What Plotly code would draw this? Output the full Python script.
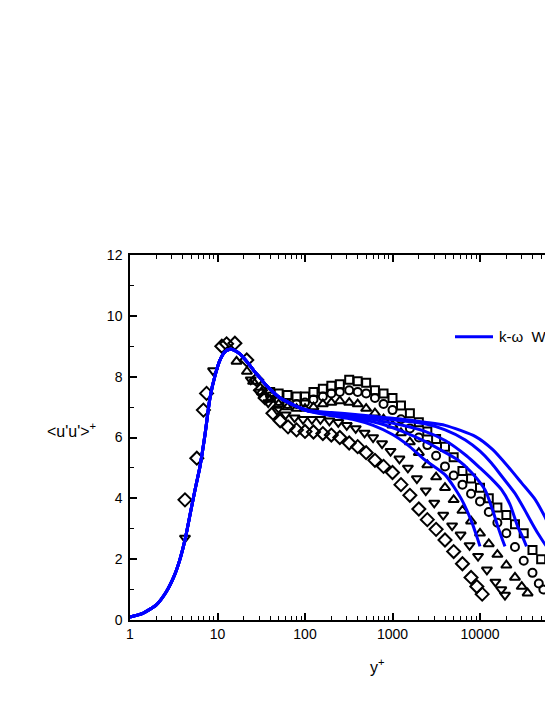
import plotly.graph_objects as go

# experimental profiles, <u'u'>+ against y+
diamond_x = [4.25, 5.8, 6.9, 7.5, 11.2, 12.7, 15.8, 21.6, 28, 31, 35, 43, 52, 64, 80, 100,
             125, 160, 200, 250, 320, 400, 500, 630, 790, 1000, 1250, 1580, 2000, 2500,
             3150, 3980, 5000, 6300, 7900, 9200, 10600]
diamond_y = [3.95, 5.32, 6.9, 7.45, 9.0, 9.08, 9.1, 8.55, 7.9, 7.55, 7.3, 6.8, 6.55, 6.35, 6.25,
             6.2, 6.18, 6.13, 6.08, 6.0, 5.82, 5.7, 5.5, 5.25, 5.05, 4.85, 4.45, 4.1, 3.65,
             3.3, 2.98, 2.63, 2.25, 1.85, 1.4, 1.1, 0.85]

tri_down_x = [4.25, 8.9, 24, 30, 38, 48, 60, 76, 95, 120, 150, 190, 240, 300, 380, 480, 600,
              760, 950, 1200, 1500, 1900, 2400, 3000, 3800, 4800, 6000, 7600, 9500, 12000,
              15000, 17500, 19300]
tri_down_y = [2.7, 8.2, 7.9, 7.5, 7.15, 6.9, 6.75, 6.65, 6.6, 6.6, 6.6, 6.55, 6.5, 6.4, 6.3,
              6.15, 6.0, 5.8, 5.55, 5.3, 5.0, 4.65, 4.25, 3.85, 3.45, 3.1, 2.8, 2.45, 2.1,
              1.65, 1.25, 1.0, 0.82]

tri_up_x = [16.5, 21.7, 25.5, 32, 40, 50, 63, 80, 100, 125, 160, 200, 250, 320, 400, 500, 630,
            790, 1000, 1250, 1580, 2000, 2500, 3150, 3980, 5000, 6300, 7900, 10000, 12600,
            15800, 20000, 25100, 30000, 35000]
tri_up_y = [8.5, 8.17, 7.84, 7.5, 7.25, 7.1, 7.0, 6.95, 6.95, 7.0, 7.1, 7.15, 7.2, 7.15, 7.1,
            6.95, 6.8, 6.6, 6.4, 6.15, 5.85, 5.5, 5.1, 4.7, 4.35, 3.95, 3.6, 3.25, 2.85, 2.5,
            2.15, 1.8, 1.4, 1.1, 0.88]

circle_x = [40, 50, 63, 80, 100, 125, 160, 200, 250, 320, 400, 500, 630, 790, 1000, 1250, 1580,
            2000, 2500, 3150, 3980, 5000, 6300, 7900, 10000, 12600, 15800, 20000, 25100, 31600,
            39800, 47000, 53000]
circle_y = [7.35, 7.2, 7.1, 7.1, 7.15, 7.25, 7.35, 7.45, 7.5, 7.55, 7.5, 7.45, 7.3, 7.1, 6.9,
            6.6, 6.3, 6.0, 5.75, 5.4, 5.05, 4.75, 4.45, 4.15, 3.9, 3.55, 3.2, 2.85, 2.4, 1.95,
            1.55, 1.2, 1.0]

square_x = [40, 50, 63, 80, 100, 125, 160, 200, 250, 320, 400, 500, 630, 790, 1000, 1250, 1580,
            2000, 2500, 3150, 3980, 5000, 6300, 7900, 10000, 12600, 15800, 20000, 25100, 31600,
            39800, 50000]
square_y = [7.5, 7.45, 7.4, 7.35, 7.35, 7.5, 7.6, 7.7, 7.75, 7.9, 7.85, 7.8, 7.55, 7.45, 7.3,
            7.05, 6.8, 6.5, 6.2, 5.95, 5.7, 5.35, 4.9, 4.65, 4.35, 4.0, 3.7, 3.45, 3.15, 2.85,
            2.3, 2.0]

# k-omega curves: common near-wall part, then one outer part per case
wall_x = [1, 1.4, 2, 2.6, 3.2, 3.7, 4.3, 5, 5.6, 6.3, 7.2, 8.2, 9.4, 10.7, 12.2, 13.9, 15.8,
          18, 22.3, 26, 30.6, 36, 43, 52, 62, 75, 88]
wall_y = [0.1, 0.22, 0.5, 0.93, 1.45, 1.97, 2.7, 3.65, 4.35, 5.04, 6.1, 7.3, 8.05, 8.55, 8.82,
          8.9, 8.86, 8.75, 8.45, 8.2, 7.96, 7.72, 7.5, 7.3, 7.18, 7.06, 6.97]

outer_a_x = [114, 200, 350, 600, 1000, 1500, 2350, 4000, 6200, 8100, 9300, 10000]
outer_a_y = [6.85, 6.72, 6.6, 6.4, 6.1, 5.75, 5.26, 4.77, 3.95, 3.2, 2.7, 2.42]
outer_b_x = [114, 200, 400, 800, 1300, 2350, 3500, 5600, 8000, 11400, 14000, 16000, 18000, 19300]
outer_b_y = [6.86, 6.76, 6.62, 6.42, 6.2, 5.87, 5.6, 5.26, 4.85, 4.28, 3.6, 3.07, 2.65, 2.42]
outer_c_x = [114, 200, 400, 800, 1300, 2350, 4000, 7000, 10000, 14000, 17700, 22000, 27000,
             31000, 34000]
outer_c_y = [6.86, 6.78, 6.68, 6.52, 6.4, 6.2, 5.9, 5.4, 5.0, 4.6, 4.28, 3.8, 3.07, 2.7, 2.42]
outer_d_x = [114, 200, 400, 800, 1300, 2350, 4000, 6800, 10000, 13500, 18000, 25000, 32000,
             39000, 47000, 55000, 60000]
outer_d_y = [6.87, 6.8, 6.72, 6.62, 6.55, 6.45, 6.25, 5.92, 5.55, 5.16, 4.7, 4.17, 3.65, 3.2,
             2.8, 2.5, 2.35]
outer_e_x = [114, 200, 400, 800, 1300, 2350, 4000, 8900, 14000, 21000, 30000, 43000, 55000,
             70000, 90000]
outer_e_y = [6.88, 6.82, 6.75, 6.66, 6.6, 6.5, 6.4, 6.03, 5.6, 5.04, 4.5, 3.95, 3.4, 2.8, 2.4]

x_tick_vals = [1, 10, 100, 1000, 10000]
x_tick_text = ["1", "10", "100", "1000", "10000"]

FONT = "Liberation Sans, Arial, sans-serif"
BLUE = "#0000ff"

fig = go.Figure()

marker_sets = [
    (diamond_x, diamond_y, "diamond-open", 10),
    (tri_down_x, tri_down_y, "triangle-down-open", 9),
    (tri_up_x, tri_up_y, "triangle-up-open", 9),
    (circle_x, circle_y, "circle-open", 8),
    (square_x, square_y, "square-open", 8),
]
for xs, ys, sym, size in marker_sets:
    fig.add_trace(go.Scatter(
        x=xs, y=ys, mode="markers", showlegend=False,
        marker=dict(symbol=sym, size=size, color="black", line=dict(color="black", width=2)),
    ))

outer_parts = [
    (outer_a_x, outer_a_y), (outer_b_x, outer_b_y), (outer_c_x, outer_c_y),
    (outer_d_x, outer_d_y), (outer_e_x, outer_e_y),
]
for ox, oy in outer_parts:
    fig.add_trace(go.Scatter(
        x=wall_x + ox, y=wall_y + oy, mode="lines", showlegend=False,
        line=dict(color=BLUE, width=3, shape="spline", smoothing=0.6),
    ))

# plot area is 415 px wide at 87.5 px per decade and runs to the page edge
fig.update_xaxes(
    type="log", range=[0, 415 / 87.5],
    tickvals=x_tick_vals, ticktext=x_tick_text,
    ticks="inside", ticklen=7, tickwidth=1.5, tickcolor="black",
    minor=dict(ticks="inside", ticklen=4, tickwidth=1.2, tickcolor="black", dtick="D1", showgrid=False),
    showline=True, linecolor="black", linewidth=1.5, mirror="ticks",
    showgrid=False, zeroline=False,
    tickfont=dict(family=FONT, size=14, color="black"),
)
fig.update_yaxes(
    range=[0, 12], dtick=2,
    ticks="inside", ticklen=7, tickwidth=1.5, tickcolor="black",
    minor=dict(ticks="inside", ticklen=4, tickwidth=1.2, tickcolor="black", dtick=1, showgrid=False),
    showline=True, linecolor="black", linewidth=1.5,
    showgrid=False, zeroline=False, ticklabelstandoff=3,
    tickfont=dict(family=FONT, size=14, color="black"),
)

# axis titles (the y title is horizontal in the original)
fig.add_annotation(
    text="&lt;u'u'&gt;<sup>+</sup>", xref="paper", yref="paper",
    x=(71 - 130) / 415, y=0.52, xanchor="center", yanchor="middle", showarrow=False,
    font=dict(family=FONT, size=16, color="black"),
)
fig.add_annotation(
    text="y<sup>+</sup>", xref="paper", yref="paper",
    x=(377 - 130) / 415, y=-0.126, xanchor="center", yanchor="middle", showarrow=False,
    font=dict(family=FONT, size=16, color="black"),
)

# legend entry, placed like the original
fig.add_shape(type="line", xref="paper", yref="paper",
              x0=(455 - 130) / 415, x1=(493 - 130) / 415, y0=0.776, y1=0.776,
              line=dict(color=BLUE, width=3))
fig.add_annotation(
    text="k-ω  Wilcox", xref="paper", yref="paper",
    x=(497 - 130) / 415, y=0.776, xanchor="left", yanchor="middle", showarrow=False,
    font=dict(family=FONT, size=15, color="black"),
)

fig.update_layout(
    width=545, height=705,
    margin=dict(l=130, r=0, t=255, b=85),
    paper_bgcolor="white", plot_bgcolor="white",
    font=dict(family=FONT, color="black"),
)

# drop the default page margin so the figure fills the window exactly
fig.write_html("out.html", config={"displayModeBar": False},
               post_script="document.body.style.margin='0';"
               "document.body.style.overflow='hidden';")
